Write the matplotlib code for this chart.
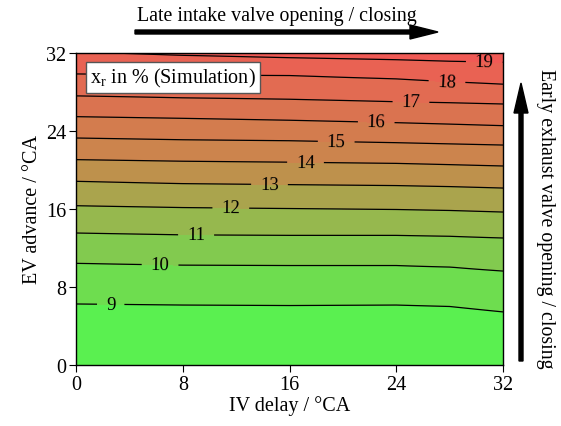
import numpy as np
import matplotlib
matplotlib.use('Agg')
import matplotlib.pyplot as plt
from matplotlib.colors import LinearSegmentedColormap

plt.rcParams['font.family'] = 'Liberation Serif'
plt.rcParams['mathtext.fontset'] = 'custom'
plt.rcParams['mathtext.rm'] = 'Liberation Serif'

# contour levels of residual gas fraction x_r in %
levels = [9, 10, 11, 12, 13, 14, 15, 16, 17, 18, 19]
# IV delay positions (°CA) where the contour heights were read
iv_delay = [0, 8, 16, 24, 28, 32]
# EV advance (°CA) of each contour level at those IV delay positions
ev_at_level = {
    9:  [6.26, 6.15, 6.10, 6.15, 6.00, 5.44],
    10: [10.43, 10.25, 10.20, 10.20, 10.05, 9.64],
    11: [13.54, 13.35, 13.30, 13.30, 13.20, 13.03],
    12: [16.34, 16.15, 16.05, 15.95, 15.85, 15.69],
    13: [18.84, 18.60, 18.50, 18.40, 18.30, 18.15],
    14: [21.06, 20.90, 20.80, 20.68, 20.55, 20.41],
    15: [23.28, 23.10, 23.00, 22.80, 22.68, 22.56],
    16: [25.47, 25.30, 25.10, 24.85, 24.70, 24.54],
    17: [27.60, 27.40, 27.25, 27.00, 26.90, 26.77],
    18: [29.85, 29.75, 29.70, 29.35, 29.05, 28.80],
    19: [32.10, 31.75, 31.50, 31.30, 31.15, 31.05],
}
# x_r at the lower (EV advance 0) and upper (EV advance 32) edges
xr_bottom = [7.6, 7.6, 7.6, 7.6, 7.6, 7.6]
xr_top = [18.95, 19.10, 19.20, 19.30, 19.37, 19.43]

# label positions (IV delay, EV advance)
label_pos = [(2.6, 6.2), (6.3, 10.3), (9.0, 13.3), (11.6, 16.1), (14.5, 18.5),
             (17.2, 20.8), (19.5, 22.9), (22.5, 24.9), (25.1, 26.9),
             (27.8, 29.0), (30.6, 31.1)]

# build the field column by column
yg = np.linspace(0, 32, 161)
cols = []
for i in range(len(iv_delay)):
    ys = [0.0] + [ev_at_level[l][i] for l in levels if ev_at_level[l][i] < 32] + [32.0]
    zs = [xr_bottom[i]] + [l for l in levels if ev_at_level[l][i] < 32] + [xr_top[i]]
    cols.append(np.interp(yg, ys, zs))
cols = np.array(cols)  # (nx, ny)
xg = np.linspace(0, 32, 161)
Z = np.array([np.interp(xg, iv_delay, cols[:, j]) for j in range(len(yg))])
X, Y = np.meshgrid(xg, yg)

cmap = LinearSegmentedColormap.from_list('gr', ['#5af050', '#c8884c', '#f05a55'])
fill_levels = [0] + levels + [30]
band_colors = [cmap(t) for t in np.linspace(0, 1, len(fill_levels) - 1)]

fig = plt.figure(figsize=(5.61, 4.27), dpi=100)
ax = fig.add_axes([0.1355, 0.1429, 0.7611, 0.7307])
ax.contourf(X, Y, Z, levels=fill_levels, colors=band_colors)
cs = ax.contour(X, Y, Z, levels=levels, colors='black', linewidths=0.9)
ax.clabel(cs, fmt='%d', fontsize=13.5, manual=label_pos, inline_spacing=9)

ax.set_xlim(0, 32)
ax.set_ylim(0, 32)
ticks = [0, 8, 16, 24, 32]
ax.set_xticks(ticks)
ax.set_yticks(ticks)
ax.tick_params(direction='out', length=5, width=0.8, labelsize=14.5, pad=2)
ax.set_xlabel('IV delay / °CA', fontsize=14.5, labelpad=1)
ax.set_ylabel('EV advance / °CA', fontsize=14.5, labelpad=3)
for s in ax.spines.values():
    s.set_linewidth(1.0)

ax.text(1.05, 29.5, r'x$_\mathrm{r}$ in % (Simulation)', fontsize=14.5,
        va='center', ha='left',
        bbox=dict(boxstyle='square,pad=0.2', fc='white', ec='#555555', lw=1.0))

# direction arrows
fig.patches.append(matplotlib.patches.FancyArrow(
    135 / 561, 1 - 33 / 427, 275 / 561, 0, width=4 / 427,
    head_width=14 / 427, head_length=28 / 561, length_includes_head=False,
    transform=fig.transFigure, color='black'))
fig.text(277 / 561, 1 - 16 / 427, 'Late intake valve opening / closing',
         ha='center', va='center', fontsize=14.3)
fig.patches.append(matplotlib.patches.FancyArrow(
    521 / 561, 1 - 362 / 427, 0, 248 / 427, width=4 / 561,
    head_width=14 / 561, head_length=30 / 427, length_includes_head=False,
    transform=fig.transFigure, color='black'))
fig.text(545 / 561, 1 - 219 / 427, 'Early exhaust valve opening / closing',
         ha='center', va='center', fontsize=14.3, rotation=-90)

fig.savefig('out.png', dpi=100)
